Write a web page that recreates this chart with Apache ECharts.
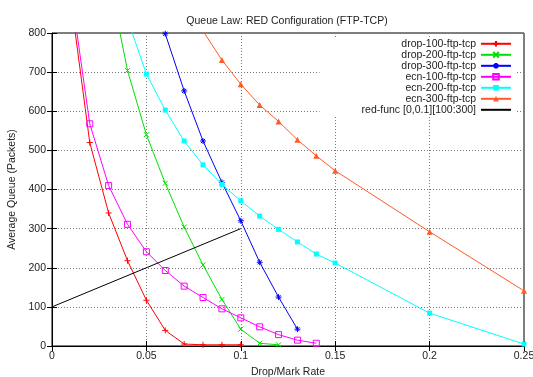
<!DOCTYPE html>
<html>
<head>
<meta charset="utf-8">
<script src="https://cdn.jsdelivr.net/npm/echarts@6/dist/echarts.min.js"></script>
<style>
  html, body { margin: 0; padding: 0; background: #fff; }
  #chart { width: 533px; height: 377px; }
</style>
</head>
<body>
<div id="chart"></div>
<script>
// ticks
const xTicks = [0, 0.05, 0.1, 0.15, 0.2, 0.25];
const yTicks = [0, 100, 200, 300, 400, 500, 600, 700, 800];

// data
const drop100X = [0.01, 0.02, 0.03, 0.04, 0.05, 0.06, 0.07, 0.08, 0.09, 0.1];
const drop100Y = [885, 520, 340, 218, 117, 40, 5, 3, 3, 3];

const drop200X = [0.03, 0.04, 0.05, 0.06, 0.07, 0.08, 0.09, 0.1, 0.11, 0.12];
const drop200Y = [945, 704, 540, 416, 304, 207, 119, 43, 7, 3];

const drop300X = [0.06, 0.07, 0.08, 0.09, 0.1, 0.11, 0.12, 0.13];
const drop300Y = [798, 652, 524, 418, 320, 214, 125, 43];

const ecn100X = [0.01, 0.02, 0.03, 0.04, 0.05, 0.06, 0.07, 0.08, 0.09, 0.1, 0.11, 0.12, 0.13, 0.14];
const ecn100Y = [910, 568, 410, 311, 241, 193, 153, 124, 95, 72, 49, 29, 15, 7];

const ecn200X = [0.04, 0.05, 0.06, 0.07, 0.08, 0.09, 0.1, 0.11, 0.12, 0.13, 0.14, 0.15, 0.2, 0.25];
const ecn200Y = [835, 695, 603, 524, 463, 413, 371, 332, 298, 266, 235, 212, 84, 5];

const ecn300X = [0.08, 0.09, 0.1, 0.11, 0.12, 0.13, 0.14, 0.15, 0.2, 0.25];
const ecn300Y = [805, 731, 669, 616, 574, 527, 486, 448, 292, 141];

const redFuncX = [0, 0.1];
const redFuncY = [100, 300];

const FONT = "Liberation Sans, Arial, sans-serif";
const TXT = "#222";

const pts = (xs, ys) => xs.map((x, i) => [x, ys[i]]);

const PLUS = "path://M0,5L10,5M5,0L5,10";
const CROSS = "path://M0,0L10,10M10,0L0,10";
const STAR = "path://M0,5L10,5M5,0L5,10M1.5,1.5L8.5,8.5M8.5,1.5L1.5,8.5";

function mk(name, xs, ys, color, symbol, size, filled) {
  return {
    name: name,
    type: "line",
    data: pts(xs, ys),
    symbol: symbol,
    symbolSize: size,
    showSymbol: true,
    clip: true,
    lineStyle: { color: color, width: 1 },
    itemStyle: {
      color: filled ? color : "rgba(0,0,0,0)",
      borderColor: color,
      borderWidth: filled ? 0 : 1,
    },
    emphasis: { disabled: true },
    z: 3,
  };
}

const chart = echarts.init(document.getElementById("chart"), null, { renderer: "canvas" });

const xMin = xTicks[0], xMax = xTicks[xTicks.length - 1], xStep = xTicks[1] - xTicks[0];
const yMin = yTicks[0], yMax = yTicks[yTicks.length - 1], yStep = yTicks[1] - yTicks[0];

const redFunc = mk("red-func [0,0.1][100:300]", redFuncX, redFuncY, "#000000", "circle", 1, true);
redFunc.showSymbol = false;
redFunc.itemStyle = { color: "rgba(0,0,0,0)", borderWidth: 0 };

const option = {
  animation: false,
  backgroundColor: "#fff",
  title: {
    text: "Queue Law: RED Configuration (FTP-TCP)",
    left: 282,
    textAlign: "center",
    top: 11,
    textStyle: { fontFamily: FONT, fontSize: 10.5, fontWeight: "normal", color: TXT },
  },
  legend: {
    orient: "vertical",
    align: "right",
    right: 16,
    top: 37,
    padding: [1.3, 5, 0, 42],
    backgroundColor: "#fff",
    itemWidth: 30,
    itemHeight: 7,
    itemGap: 0,
    selectedMode: false,
    textStyle: { fontFamily: FONT, fontSize: 10.5, lineHeight: 10.4, height: 10.4, color: TXT },
    data: [
      "drop-100-ftp-tcp", "drop-200-ftp-tcp", "drop-300-ftp-tcp",
      "ecn-100-ftp-tcp", "ecn-200-ftp-tcp", "ecn-300-ftp-tcp",
      "red-func [0,0.1][100:300]",
    ],
  },
  grid: {
    left: 52,
    right: 9,
    top: 33,
    bottom: 31,
    outerBoundsMode: "none",
    show: true,
    borderColor: "#000",
    borderWidth: 1,
    backgroundColor: "transparent",
  },
  xAxis: [
    {
      type: "value",
      min: xMin,
      max: xMax,
      interval: xStep,
      name: "Drop/Mark Rate",
      nameLocation: "middle",
      nameGap: 19,
      nameTextStyle: { fontFamily: FONT, fontSize: 10.5, color: TXT },
      axisLine: { show: true, lineStyle: { color: "#000" } },
      axisTick: { show: true, inside: true, length: 5, lineStyle: { color: "#000" } },
      axisLabel: {
        fontFamily: FONT, fontSize: 10.5, color: TXT, margin: 5,
        formatter: (v) => String(xTicks.find((t) => Math.abs(t - v) < 1e-9) ?? v),
      },
      splitLine: { show: true, lineStyle: { color: "#777", type: [1, 2], width: 1 } },
    },
    {
      type: "value",
      position: "top",
      min: xMin,
      max: xMax,
      interval: xStep,
      axisLine: { show: false },
      axisTick: { show: true, inside: true, length: 5, lineStyle: { color: "#000" } },
      axisLabel: { show: false },
      splitLine: { show: false },
    },
  ],
  yAxis: [
    {
      type: "value",
      min: yMin,
      max: yMax,
      interval: yStep,
      name: "Average Queue (Packets)",
      nameLocation: "middle",
      nameGap: 28,
      nameTextStyle: { fontFamily: FONT, fontSize: 10.5, color: TXT },
      axisLine: { show: true, lineStyle: { color: "#000" } },
      axisTick: { show: true, inside: true, length: 5, lineStyle: { color: "#000" } },
      axisLabel: { fontFamily: FONT, fontSize: 10.5, color: TXT, margin: 6 },
      splitLine: { show: true, lineStyle: { color: "#777", type: [1, 2], width: 1 } },
    },
    {
      type: "value",
      position: "right",
      min: yMin,
      max: yMax,
      interval: yStep,
      axisLine: { show: false },
      axisTick: { show: true, inside: true, length: 5, lineStyle: { color: "#000" } },
      axisLabel: { show: false },
      splitLine: { show: false },
    },
  ],
  series: [
    mk("drop-100-ftp-tcp", drop100X, drop100Y, "#ff0000", PLUS, 6, false),
    mk("drop-200-ftp-tcp", drop200X, drop200Y, "#00e000", CROSS, 5, false),
    mk("drop-300-ftp-tcp", drop300X, drop300Y, "#0000ff", STAR, 6, false),
    mk("ecn-100-ftp-tcp", ecn100X, ecn100Y, "#ff00ff", "rect", 6, false),
    mk("ecn-200-ftp-tcp", ecn200X, ecn200Y, "#00ffff", "rect", 5, true),
    mk("ecn-300-ftp-tcp", ecn300X, ecn300Y, "#ff5a28", "triangle", 6, true),
    redFunc,
  ],
};

chart.setOption(option);
</script>
</body>
</html>
